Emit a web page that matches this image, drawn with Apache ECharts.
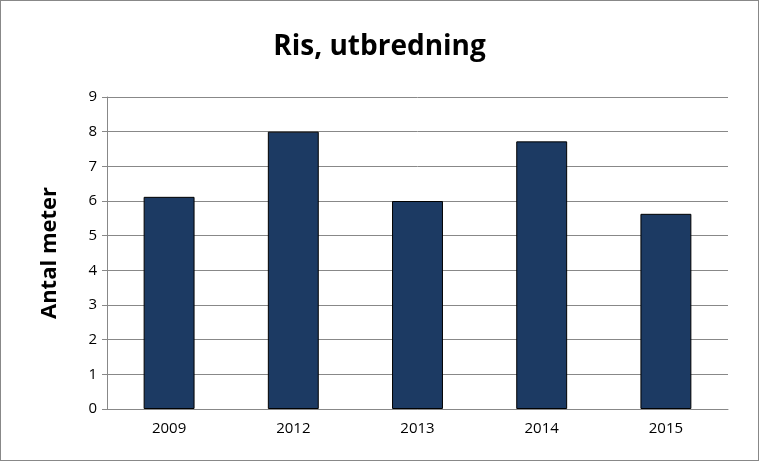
<!DOCTYPE html>
<html><head><meta charset="utf-8">
<script src="https://cdn.jsdelivr.net/npm/echarts@6/dist/echarts.min.js"></script>
<style>html,body{margin:0;padding:0;background:#fff}#c{width:757px;height:459px;border:1px solid #888}</style>
</head><body><div id="c"></div>
<script>
const categories = ['2009','2012','2013','2014','2015'];
const values = [6.12, 8.0, 6.0, 7.72, 5.63];
const yTicks = {min:0, max:9, interval:1};
const chart = echarts.init(document.getElementById('c'));
chart.setOption({
  animation:false,
  title:{text:'Ris, utbredning', left:'center', top:27, textStyle:{fontFamily:'Open Sans', fontWeight:'bold', fontSize:28, color:'#000'}},
  grid:{left:106, right:30, top:96, bottom:51},
  xAxis:{type:'category', data:categories, axisTick:{show:false},
    axisLine:{lineStyle:{color:'#888'}}, axisLabel:{color:'#000', fontSize:15, fontFamily:'Open Sans', margin:12}},
  yAxis:{type:'value', min:yTicks.min, max:yTicks.max, interval:yTicks.interval,
    name:'Antal meter', nameLocation:'middle', nameGap:46, nameRotate:90,
    nameTextStyle:{fontFamily:'Open Sans', fontWeight:'bold', fontSize:22, color:'#000'},
    axisLine:{show:true, lineStyle:{color:'#888'}}, axisTick:{show:true, length:5, lineStyle:{color:'#888'}},
    axisLabel:{color:'#000', fontSize:15, fontFamily:'Open Sans', margin:10},
    splitLine:{lineStyle:{color:'#888'}}},
  series:[{type:'bar', data:values, barWidth:'41%',
    itemStyle:{color:'#1c3a63', borderColor:'#000', borderWidth:1}}]
});
</script></body></html>
